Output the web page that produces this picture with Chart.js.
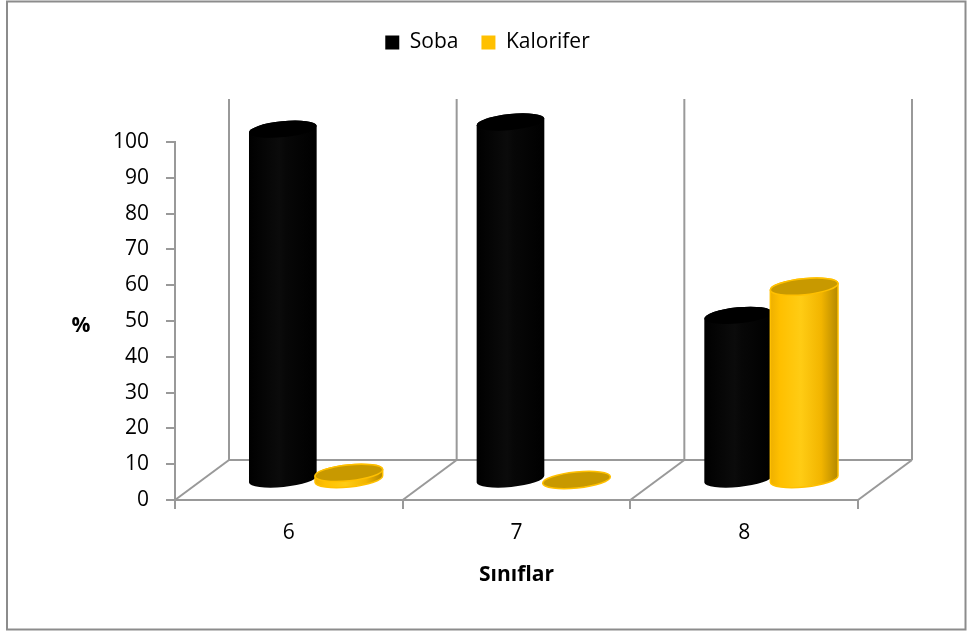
<!DOCTYPE html>
<html>
<head>
<meta charset="utf-8">
<script src="https://cdn.jsdelivr.net/npm/chart.js@4.4.1/dist/chart.umd.min.js"></script>
<style>
  html, body { margin: 0; padding: 0; background: #fff; }
  #wrap { width: 967px; height: 632px; position: relative; }
</style>
</head>
<body>
<div id="wrap"><canvas id="c" width="967" height="632"></canvas></div>
<script>
// Heating type share per grade (%)
const categories = ['6', '7', '8'];
const sobaValues = [98, 100, 46];
const kaloriferValues = [2, 0, 54];
const seriesNames = ['Soba', 'Kalorifer'];
const seriesColors = ['#000000', '#ffc000'];
const xTitle = 'Sınıflar';
const yTitle = '%';

const FONT = '"Open Sans", Lato, "DejaVu Sans", sans-serif';
const FS = 21;
const LINE = '#999999';
// depth of the floor/back wall in screen pixels
const DEPTH_X = 54, DEPTH_Y = -40;

function cylinder(ctx, cx, topY, baseY, w, style) {
  const rx = w / 2, ry = 8, rot = -0.1;
  const c = Math.cos(rot), s = Math.sin(rot);
  ctx.save();
  if (baseY - topY > 0.5) {
    ctx.beginPath();
    ctx.ellipse(cx, baseY, rx, ry, rot, 0, Math.PI);
    ctx.lineTo(cx - rx * c, topY - rx * s);
    ctx.ellipse(cx, topY, rx, ry, rot, Math.PI, 2 * Math.PI);
    ctx.closePath();
    const g = ctx.createLinearGradient(cx - rx, 0, cx + rx, 0);
    style.side.forEach(([p, col]) => g.addColorStop(p, col));
    ctx.fillStyle = g;
    ctx.fill();
    if (style.outline) {
      ctx.strokeStyle = style.outline;
      ctx.lineWidth = 1.5;
      ctx.stroke();
    }
  }
  ctx.beginPath();
  ctx.ellipse(cx, topY, rx, ry, rot, 0, 2 * Math.PI);
  ctx.fillStyle = style.top;
  ctx.fill();
  if (style.outline) {
    ctx.strokeStyle = style.outline;
    ctx.lineWidth = 1.5;
    ctx.stroke();
  }
  ctx.restore();
}

const cylStyles = [
  { side: [[0, '#000'], [0.45, '#0b0b0b'], [0.55, '#070707'], [1, '#000']], top: '#000', outline: null },
  { side: [[0, '#eeb000'], [0.15, '#ffc000'], [0.45, '#ffcc14'], [0.75, '#f2b500'], [1, '#b48800']], top: '#c89900', outline: '#ffc000' }
];

const scene3d = {
  id: 'scene3d',
  beforeLayout(chart) {
    const lg = chart.legend;
    if (lg && !lg._fixed) {
      const fit = lg.fit.bind(lg);
      lg.fit = function () { fit(); this.height = 133; };
      lg._fixed = true;
    }
  },
  afterLayout(chart) {
    // legend centred over the whole canvas, not just the plot column
    const lg = chart.legend;
    if (lg) { lg.left = 8; lg.right = 967; }
  },
  beforeDraw(chart) {
    const ctx = chart.ctx;
    ctx.save();
    ctx.fillStyle = '#fff';
    ctx.fillRect(0, 0, chart.width, chart.height);
    ctx.strokeStyle = '#8c8c8c';
    ctx.lineWidth = 2;
    ctx.strokeRect(7, 1.5, 958.5, 628);
    ctx.restore();
  },
  beforeDatasetsDraw(chart) {
    const ctx = chart.ctx;
    const xs = chart.scales.x, ys = chart.scales.y;
    const left = xs.left, right = xs.right, n = categories.length;
    const step = (right - left) / n;
    const bottom = ys.getPixelForValue(0), top = ys.getPixelForValue(100);
    ctx.save();
    ctx.strokeStyle = LINE;
    ctx.lineWidth = 2;
    // back wall verticals
    for (let i = 0; i <= n; i++) {
      const bx = left + i * step + DEPTH_X;
      ctx.beginPath();
      ctx.moveTo(bx, bottom + DEPTH_Y);
      ctx.lineTo(bx, top + DEPTH_Y - 3);
      ctx.stroke();
    }
    // floor back edge
    ctx.beginPath();
    ctx.moveTo(left + DEPTH_X, bottom + DEPTH_Y);
    ctx.lineTo(right + DEPTH_X, bottom + DEPTH_Y);
    ctx.stroke();
    // floor depth lines
    for (let i = 0; i <= n; i++) {
      const fx = left + i * step;
      ctx.beginPath();
      ctx.moveTo(fx, bottom);
      ctx.lineTo(fx + DEPTH_X, bottom + DEPTH_Y);
      ctx.stroke();
    }
    ctx.restore();
  },
  beforeDatasetDraw() { return false; },
  afterDatasetsDraw(chart) {
    const ctx = chart.ctx;
    chart.data.datasets.forEach((ds, di) => {
      const meta = chart.getDatasetMeta(di);
      meta.data.forEach(el => {
        const p = el.getProps(['x', 'y', 'base', 'width'], true);
        cylinder(ctx, p.x + DEPTH_X / 2, p.y + DEPTH_Y / 2, p.base + DEPTH_Y / 2, p.width * 1.03, cylStyles[di]);
      });
    });
    // y axis caption, upright
    const ys = chart.scales.y;
    ctx.save();
    ctx.font = 'bold ' + FS + 'px ' + FONT;
    ctx.fillStyle = '#000';
    ctx.textAlign = 'center';
    ctx.textBaseline = 'middle';
    ctx.fillText(yTitle, 81, (ys.top + ys.bottom) / 2 + 5);
    ctx.restore();
  }
};

function build() {
  new Chart(document.getElementById('c'), {
    type: 'bar',
    data: {
      labels: categories,
      datasets: [
        { label: seriesNames[0], data: sobaValues, backgroundColor: seriesColors[0], borderWidth: 0 },
        { label: seriesNames[1], data: kaloriferValues, backgroundColor: seriesColors[1], borderWidth: 0 }
      ]
    },
    options: {
      responsive: false,
      animation: false,
      events: [],
      layout: { padding: { left: 0, top: 9, right: 109, bottom: 0 } },
      datasets: { bar: { categoryPercentage: 0.58, barPercentage: 1.0 } },
      plugins: {
        legend: {
          position: 'top',
          labels: {
            font: { family: FONT, size: FS },
            color: '#000',
            boxWidth: 14,
            boxHeight: 14,
            padding: 23
          }
        },
        tooltip: { enabled: false }
      },
      scales: {
        x: {
          offset: true,
          afterFit(s) { s.height = 132; },
          grid: { offset: true, drawOnChartArea: false, tickLength: 9, color: LINE, lineWidth: 2 },
          border: { color: LINE, width: 2 },
          ticks: { font: { family: FONT, size: FS }, color: '#000', padding: 11 },
          title: { display: true, text: xTitle, font: { family: FONT, size: FS, weight: 'bold' }, color: '#000', padding: { top: 0, bottom: 44 } }
        },
        y: {
          min: 0,
          max: 100,
          afterFit(s) { s.width = 175; },
          grid: { drawOnChartArea: false, tickLength: 9, color: LINE, lineWidth: 2 },
          border: { color: LINE, width: 2 },
          ticks: { stepSize: 10, font: { family: FONT, size: FS }, color: '#000', padding: 17 }
        }
      }
    },
    plugins: [scene3d]
  });
}

if (document.fonts && document.fonts.load) {
  Promise.all([
    document.fonts.load(FS + 'px "Open Sans"'),
    document.fonts.load('bold ' + FS + 'px "Open Sans"')
  ]).then(build, build);
} else {
  build();
}
</script>
</body>
</html>
